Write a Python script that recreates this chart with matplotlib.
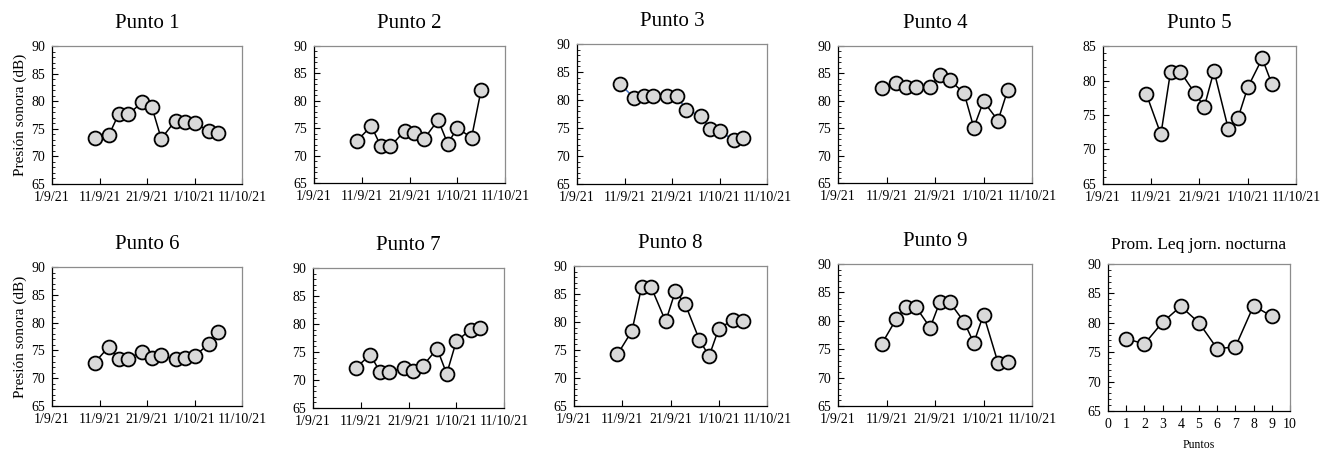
import datetime as dt
import matplotlib
matplotlib.use("Agg")
import matplotlib.pyplot as plt
import matplotlib.dates as mdates
from matplotlib.ticker import FuncFormatter, MultipleLocator

plt.rcParams['font.family'] = ['Liberation Serif', 'DejaVu Serif']

# fechas de medición (lun/mié/vie)
fechas = ["2021-09-10", "2021-09-13", "2021-09-15", "2021-09-17", "2021-09-20", "2021-09-22",
          "2021-09-24", "2021-09-27", "2021-09-29", "2021-10-01", "2021-10-04", "2021-10-06"]

punto1 = [73.4, 73.9, 77.6, 77.6, 79.8, 79.0, 73.2, 76.5, 76.2, 76.1, 74.6, 74.2]
punto2 = [72.7, 75.4, 71.7, 71.7, 74.5, 74.2, 73.0, 76.5, 72.2, 75.0, 73.3, 82.0]
punto3 = [82.9, 80.4, 80.8, 80.8, 80.8, 80.8, 78.2, 77.2, 74.9, 74.5, 72.8, 73.2]
punto4 = [82.3, 83.3, 82.6, 82.6, 82.6, 84.7, 83.8, 81.4, 75.1, 79.9, 76.4, 82.0]
punto5 = [78.0, 72.2, 81.3, 81.3, 78.2, 76.2, 81.4, 72.9, 74.6, 79.0, 83.2, 79.5]
punto6 = [72.8, 75.7, 73.5, 73.5, 74.8, 73.6, 74.1, 73.4, 73.6, 74.0, 76.1, 78.3]
punto7 = [72.2, 74.5, 71.5, 71.5, 72.2, 71.6, 72.5, 75.6, 71.1, 76.9, 79.0, 79.3]
punto8 = [74.2, 78.4, 86.2, 86.2, 80.1, 85.5, 83.3, 76.8, 73.9, 78.8, 80.4, 80.1]
punto9 = [75.9, 80.3, 82.5, 82.5, 78.8, 83.3, 83.3, 79.8, 76.1, 81.1, 72.6, 72.8]

puntos_prom = [1, 2, 3, 4, 5, 6, 7, 8, 9]
prom_leq = [77.3, 76.4, 80.1, 82.8, 80.0, 75.6, 75.9, 82.9, 81.1]

series = [punto1, punto2, punto3, punto4, punto5, punto6, punto7, punto8, punto9]
titulos = ["Punto %d" % i for i in range(1, 10)]

x = [dt.datetime.strptime(f, "%Y-%m-%d") for f in fechas]
xticks = [dt.datetime(2021, 9, 1), dt.datetime(2021, 9, 11), dt.datetime(2021, 9, 21),
          dt.datetime(2021, 10, 1), dt.datetime(2021, 10, 11)]

W, H = 1326, 454
# (izq, arriba, der, abajo) en pixeles
cajas = [(52, 46, 242, 184), (314, 46, 505, 183), (577, 44, 767, 184), (838, 46, 1032, 183),
         (1103, 46, 1296, 184), (52, 267, 242, 406), (313, 268, 504, 408), (574, 266, 767, 406),
         (838, 264, 1032, 406), (1108, 264, 1290, 411)]

fig = plt.figure(figsize=(W / 100, H / 100), dpi=100)


def hacer_ejes(caja):
    l, t, r, b = caja
    ax = fig.add_axes([l / W, 1 - b / H, (r - l) / W, (b - t) / H])
    for s in ['top', 'right']:
        ax.spines[s].set_color('#8c8c8c')
    for s in ax.spines.values():
        s.set_linewidth(0.9)
    ax.tick_params(direction='in', labelsize=10, pad=5, length=4, width=0.8)
    ax.tick_params(which='minor', direction='in', length=2, width=0.6)
    ax.tick_params(axis='x', which='minor', length=0)
    ax.yaxis.set_minor_locator(MultipleLocator(1))
    return ax


estilo = dict(marker='o', ms=10, mfc='#d9d9d9', mec='black', mew=1.3, lw=1.1)
fmt = FuncFormatter(lambda v, p: "%d/%d/%s" % (mdates.num2date(v).day, mdates.num2date(v).month,
                                               mdates.num2date(v).strftime("%y")))

for i, (vals, tit) in enumerate(zip(series, titulos)):
    ax = hacer_ejes(cajas[i])
    color = '#4472c4' if i == 2 else 'black'
    ax.plot(x, vals, color=color, **estilo)
    ax.set_xlim(xticks[0], xticks[-1])
    ax.set_xticks(xticks)
    ax.xaxis.set_major_formatter(fmt)
    if i == 4:
        ax.set_ylim(65, 85)
    else:
        ax.set_ylim(65, 90)
    ax.yaxis.set_major_locator(MultipleLocator(5))
    ax.set_title(tit, fontsize=15, pad=13)
    if i in (0, 5):
        ax.set_ylabel("Presión sonora (dB)", fontsize=11, labelpad=3)

ax = hacer_ejes(cajas[9])
ax.plot(puntos_prom, prom_leq, color='black', **estilo)
ax.set_xlim(0, 10)
ax.set_xticks(range(0, 11))
ax.set_ylim(65, 90)
ax.yaxis.set_major_locator(MultipleLocator(5))
ax.set_title("Prom. Leq jorn. nocturna", fontsize=12.5, pad=11)
ax.set_xlabel("Puntos", fontsize=8.5, labelpad=6)

fig.savefig("out.png", dpi=100, facecolor='white')
